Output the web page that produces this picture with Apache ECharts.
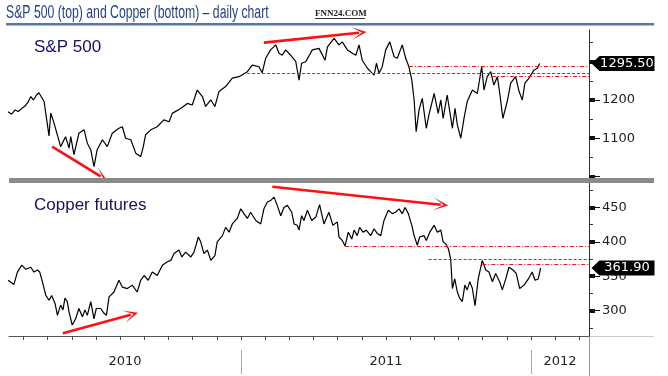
<!DOCTYPE html>
<html>
<head>
<meta charset="utf-8">
<script src="https://cdn.jsdelivr.net/npm/echarts@6.0.0/dist/echarts.min.js"></script>
<style>
html,body{margin:0;padding:0;background:#fff;}
#chart{width:668px;height:376px;}
</style>
</head>
<body>
<div id="chart"></div>
<script>
// x is a decimal year (2011.5 = mid 2011)
var xMin = 2010.2, xMax = 2012.2;

var spx = [
  [2010.197,1169],[2010.209,1163],[2010.221,1174],[2010.232,1170],[2010.244,1178],[2010.255,1184],
  [2010.267,1196],[2010.275,1209],[2010.284,1200],[2010.295,1213],[2010.303,1219],[2010.321,1196],[2010.338,1106],
  [2010.344,1166],[2010.355,1140],[2010.378,1078],[2010.395,1104],[2010.407,1074],[2010.413,1104],
  [2010.424,1057],[2010.441,1113],[2010.459,1122],[2010.470,1087],[2010.482,1070],[2010.493,1026],
  [2010.504,1070],[2010.522,1096],[2010.539,1078],[2010.556,1113],[2010.579,1126],[2010.591,1130],
  [2010.602,1100],[2010.620,1096],[2010.637,1061],[2010.654,1052],[2010.662,1074],[2010.671,1109],
  [2010.689,1122],[2010.711,1130],[2010.734,1148],[2010.752,1143],[2010.763,1165],[2010.792,1178],
  [2010.815,1191],[2010.832,1187],[2010.849,1226],[2010.867,1209],[2010.878,1183],[2010.896,1200],
  [2010.910,1183],[2010.924,1222],[2010.947,1235],[2010.970,1257],[2010.993,1261],[2011.022,1274],
  [2011.039,1291],[2011.062,1287],[2011.073,1271],[2011.085,1309],[2011.102,1331],[2011.120,1344],
  [2011.131,1322],[2011.142,1317],[2011.154,1331],[2011.171,1317],[2011.189,1300],[2011.200,1252],
  [2011.209,1296],[2011.223,1300],[2011.246,1331],[2011.269,1335],[2011.290,1304],[2011.298,1339],
  [2011.321,1361],[2011.338,1344],[2011.349,1352],[2011.367,1331],[2011.384,1322],[2011.396,1317],
  [2011.407,1344],[2011.418,1304],[2011.436,1283],[2011.447,1274],[2011.459,1265],[2011.467,1296],
  [2011.476,1270],[2011.487,1287],[2011.499,1331],[2011.513,1352],[2011.528,1313],[2011.539,1309],
  [2011.556,1344],[2011.568,1309],[2011.579,1287],[2011.589,1252],[2011.597,1200],[2011.604,1117],
  [2011.614,1174],[2011.625,1204],[2011.639,1126],[2011.648,1161],[2011.666,1217],[2011.680,1165],
  [2011.689,1200],[2011.697,1152],[2011.711,1213],[2011.729,1126],[2011.738,1178],[2011.746,1135],
  [2011.758,1100],[2011.769,1152],[2011.780,1196],[2011.798,1226],[2011.815,1217],[2011.830,1287],
  [2011.838,1226],[2011.849,1261],[2011.861,1274],[2011.872,1239],[2011.884,1261],[2011.893,1213],
  [2011.903,1152],[2011.918,1196],[2011.930,1244],[2011.947,1261],[2011.959,1222],[2011.970,1200],
  [2011.979,1244],[2011.993,1257],[2012.010,1278],[2012.022,1283],[2012.030,1295.5]
];

var copper = [
  [2010.197,344],[2010.217,338],[2010.229,356],[2010.244,366],[2010.258,360],[2010.275,363],
  [2010.286,356],[2010.298,359],[2010.306,356],[2010.315,342],[2010.327,322],[2010.338,315],
  [2010.347,322],[2010.359,310],[2010.367,293],[2010.378,308],[2010.386,301],[2010.393,318],
  [2010.401,313],[2010.407,298],[2010.418,279],[2010.430,288],[2010.441,303],[2010.453,291],
  [2010.462,301],[2010.470,293],[2010.482,313],[2010.493,288],[2010.501,303],[2010.516,303],
  [2010.528,296],[2010.536,293],[2010.545,320],[2010.562,327],[2010.579,344],[2010.591,334],
  [2010.608,332],[2010.625,337],[2010.642,327],[2010.654,344],[2010.666,351],[2010.680,344],
  [2010.694,356],[2010.711,351],[2010.729,366],[2010.746,371],[2010.758,373],[2010.769,383],
  [2010.786,388],[2010.796,378],[2010.809,385],[2010.827,378],[2010.838,385],[2010.853,407],
  [2010.861,400],[2010.872,383],[2010.884,388],[2010.896,373],[2010.910,380],[2010.918,400],
  [2010.936,409],[2010.947,421],[2010.959,414],[2010.970,426],[2010.987,434],[2010.999,448],
  [2011.010,441],[2011.022,434],[2011.033,443],[2011.051,431],[2011.068,426],[2011.079,448],
  [2011.091,458],[2011.102,460],[2011.114,465],[2011.125,453],[2011.137,438],[2011.148,450],
  [2011.160,453],[2011.166,453],[2011.175,443],[2011.183,426],[2011.194,424],[2011.200,417],
  [2011.209,438],[2011.217,431],[2011.229,446],[2011.244,431],[2011.258,436],[2011.271,454],
  [2011.286,426],[2011.303,443],[2011.317,424],[2011.332,429],[2011.338,407],[2011.349,402],
  [2011.359,394],[2011.370,414],[2011.382,404],[2011.390,417],[2011.401,409],[2011.409,421],
  [2011.421,414],[2011.432,417],[2011.447,409],[2011.459,419],[2011.470,412],[2011.482,409],
  [2011.493,431],[2011.508,446],[2011.522,441],[2011.533,443],[2011.545,448],[2011.556,441],
  [2011.566,450],[2011.577,441],[2011.589,424],[2011.597,409],[2011.608,395],[2011.616,407],
  [2011.631,409],[2011.639,402],[2011.651,414],[2011.666,424],[2011.677,414],[2011.689,417],
  [2011.697,400],[2011.706,397],[2011.715,390],[2011.723,375],[2011.729,332],[2011.737,346],
  [2011.746,327],[2011.754,318],[2011.763,313],[2011.772,337],[2011.780,330],[2011.789,342],
  [2011.798,332],[2011.807,307],[2011.818,346],[2011.832,373],[2011.844,359],[2011.855,356],
  [2011.867,342],[2011.878,354],[2011.892,342],[2011.901,330],[2011.913,346],[2011.924,363],
  [2011.938,359],[2011.949,354],[2011.961,332],[2011.976,337],[2011.991,346],[2012.004,356],
  [2012.014,344],[2012.025,346],[2012.033,361.9]
];

var spxLast = 1295.50, copperLast = 361.90;

var spxMajor = [1000, 1100, 1200, 1300];
var spxMinor = [1050, 1150, 1250, 1350];
var spxLabels = [1100, 1200];
var cuMajor = [300, 350, 400, 450];
var cuMinor = [275, 325, 375, 425, 475];
var cuLabels = [300, 350, 400, 450];
var years = [2010, 2011, 2012];

// red support lines: [start, level, style]
var spxLevels = [[2011.021, 1270, 'dash'], [2011.579, 1287, 'dashdot'], [2011.866, 1262, 'dashdot']];
var cuLevels = [[2011.359, 393, 'dashdot'], [2011.647, 374.6, 'dash'], [2011.832, 366.7, 'dashdot']];
// red arrows: [from, to]
var spxArrows = [[[2010.349, 1078], [2010.516, 1000]], [[2011.079, 1350], [2011.407, 1376]]];
var cuArrows = [[[2010.386, 267], [2010.620, 294]], [[2011.108, 480], [2011.689, 454]]];

var monthTicks = [];
for (var m = 3; m <= 26; m++) monthTicks.push(2010 + m / 12);
var yearPos = years.map(function (y) {
  return (Math.max(y, xMin) + Math.min(y + 1, xMax)) / 2;
});

var RED = '#ff1010';
var arrowHead = 'path://M5,0 L10,13 L5,4 L0,13 Z';
var boxPath = 'path://M0,7.5 L8,0 L63,0 L63,15 L8,15 Z';

function markLines(levels, arrows) {
  var data = [];
  levels.forEach(function (l) {
    data.push([
      {coord: [l[0], l[1]], symbol: 'none',
       lineStyle: {color: RED, width: 1.1, type: l[2] == 'dash' ? [3, 2] : [4, 2, 1, 2]}},
      {coord: [xMax, l[1]], symbol: 'none'}
    ]);
  });
  arrows.forEach(function (a) {
    data.push([
      {coord: a[0], symbol: 'none', lineStyle: {color: RED, width: 2.6, type: 'solid'}},
      {coord: a[1], symbol: arrowHead, symbolSize: [13, 15]}
    ]);
  });
  return {
    silent: true,
    animation: false,
    symbol: ['none', 'none'],
    label: {show: false},
    emphasis: {disabled: true},
    data: data
  };
}

function lastBox(x, v) {
  return {
    silent: true,
    animation: false,
    symbol: boxPath,
    symbolSize: [63, 15],
    symbolOffset: [34, 0],
    symbolKeepAspect: false,
    itemStyle: {color: '#000'},
    label: {show: true, position: 'inside', offset: [4, 0], color: '#fff',
            fontFamily: 'DejaVu Sans', fontSize: 13,
            formatter: function () { return v.toFixed(2); }},
    data: [{coord: [x, v], value: v}]
  };
}

function yAxes(grid, min, max, major, minor, labels) {
  var base = {gridIndex: grid, type: 'value', position: 'right', min: min, max: max,
              splitLine: {show: false}};
  return [
    Object.assign({}, base, {
      axisLine: {show: true, lineStyle: {color: '#333', width: 1}},
      axisTick: {show: true, customValues: major, length: 11, lineStyle: {color: '#111', width: 1}},
      axisLabel: {customValues: labels, margin: 13, color: '#222',
                  fontFamily: 'DejaVu Sans', fontSize: 13,
                  formatter: function (v) { return String(v); }}
    }),
    Object.assign({}, base, {
      axisLine: {show: false},
      axisTick: {show: true, customValues: major, length: 6, lineStyle: {color: '#111', width: 4}},
      axisLabel: {show: false}
    }),
    Object.assign({}, base, {
      axisLine: {show: false},
      axisTick: {show: true, customValues: minor, length: 4, lineStyle: {color: '#333', width: 1}},
      axisLabel: {show: false}
    })
  ];
}

var chart = echarts.init(document.getElementById('chart'));

var option = {
  animation: false,
  backgroundColor: '#fff',
  title: [
    {text: 'S&P 500', left: 29, top: 34,
     textStyle: {fontFamily: 'Liberation Sans', fontSize: 17, fontWeight: 'normal', color: '#12126a'}},
    {text: 'Copper futures', left: 29, top: 192,
     textStyle: {fontFamily: 'Liberation Sans', fontSize: 17, fontWeight: 'normal', color: '#12126a'}}
  ],
  grid: [
    {left: 9, right: 79, top: 30, height: 148},
    {left: 9, right: 79, top: 182, height: 154}
  ],
  xAxis: [
    {gridIndex: 0, type: 'value', min: xMin, max: xMax, show: false},
    {gridIndex: 1, type: 'value', min: xMin, max: xMax, position: 'bottom',
     axisLine: {show: true, lineStyle: {color: '#555'}},
     axisTick: {show: true, customValues: monthTicks, length: 4, lineStyle: {color: '#444'}},
     axisLabel: {show: false}, splitLine: {show: false}},
    {gridIndex: 1, type: 'value', min: xMin, max: xMax, position: 'bottom', offset: 14,
     axisLine: {show: false},
     axisTick: {show: true, customValues: [2011, 2012], length: 24, lineStyle: {color: '#aaa'}},
     axisLabel: {customValues: yearPos, margin: 5, color: '#222', fontFamily: 'DejaVu Sans', fontSize: 13,
                 formatter: function (v) { return String(Math.floor(v)); }},
     splitLine: {show: false}}
  ],
  yAxis: yAxes(0, 996, 1383, spxMajor, spxMinor, spxLabels)
    .concat(yAxes(1, 263, 487, cuMajor, cuMinor, cuLabels)),
  series: [
    {name: 'S&P 500', type: 'line', xAxisIndex: 0, yAxisIndex: 0, data: spx,
     symbol: 'none', clip: false, lineStyle: {color: '#000', width: 1.2},
     markLine: markLines(spxLevels, spxArrows), markPoint: lastBox(xMax, spxLast)},
    {name: 'Copper', type: 'line', xAxisIndex: 1, yAxisIndex: 3, data: copper,
     symbol: 'none', clip: false, lineStyle: {color: '#000', width: 1.2},
     markLine: markLines(cuLevels, cuArrows), markPoint: lastBox(xMax, copperLast)}
  ],
  graphic: [
    {type: 'text', x: 6, y: 13.5, scaleX: 0.68,
     style: {text: 'S&P 500 (top) and Copper (bottom) \u2013 daily chart', x: 0, y: 0,
             font: '18px "Liberation Sans"', fill: '#22418c', verticalAlign: 'middle'}},
    {type: 'text', x: 315, y: 14,
     style: {text: 'FNN24.COM', x: 0, y: 0, font: 'bold 9px "Liberation Serif"', fill: '#222',
             verticalAlign: 'middle'}},
    {type: 'line', shape: {x1: 315, y1: 18.5, x2: 365, y2: 18.5}, style: {stroke: '#333', lineWidth: 1}},
    {type: 'rect', left: 6, top: 23, shape: {width: 648, height: 2.5}, style: {fill: '#5877a8'}},
    {type: 'rect', left: 9, top: 178, shape: {width: 645, height: 5}, style: {fill: '#8a8a8a'}, z: 10},
    {type: 'line', shape: {x1: 589.5, y1: 336, x2: 589.5, y2: 376}, style: {stroke: '#999', lineWidth: 1}},
    {type: 'line', shape: {x1: 589, y1: 336.5, x2: 654, y2: 336.5}, style: {stroke: '#ccc', lineWidth: 1}}
  ]
};

chart.setOption(option);
</script>
</body>
</html>
